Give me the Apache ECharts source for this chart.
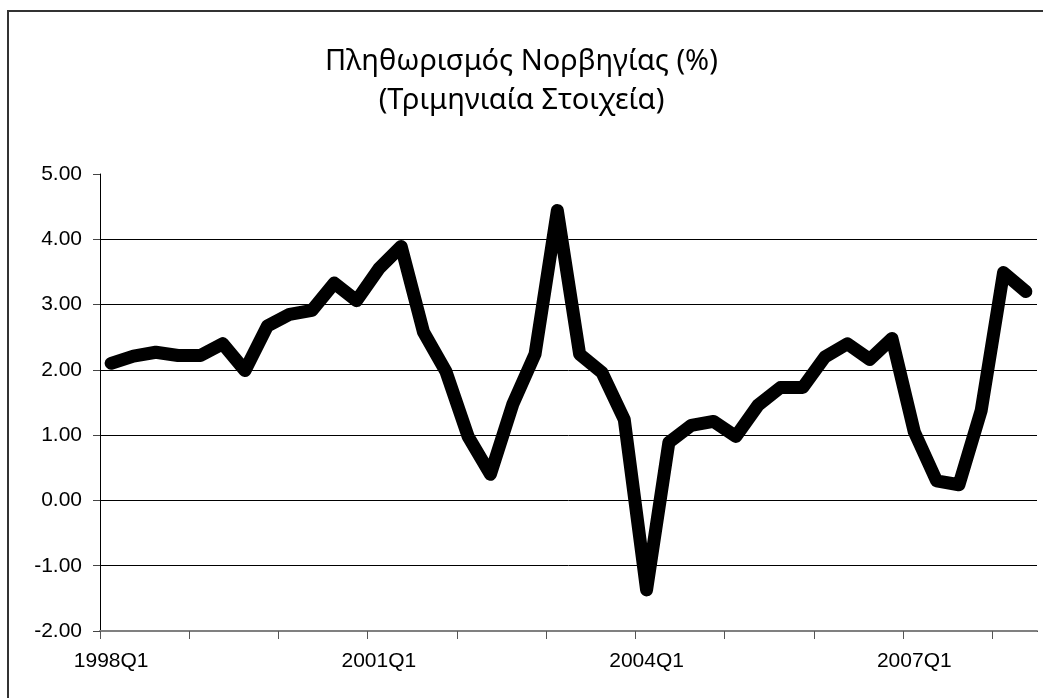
<!DOCTYPE html>
<html>
<head>
<meta charset="utf-8">
<script src="https://cdn.jsdelivr.net/npm/echarts@6/dist/echarts.min.js"></script>
<style>html,body{margin:0;padding:0;background:#fff}#c{width:1043px;height:698px}</style>
</head>
<body>
<div id="c"></div>
<script>
const titleText = 'Πληθωρισμός Νορβηγίας (%)\n(Τριμηνιαία Στοιχεία)';
const categories = [
  '1998Q1','1998Q2','1998Q3','1998Q4',
  '1999Q1','1999Q2','1999Q3','1999Q4',
  '2000Q1','2000Q2','2000Q3','2000Q4',
  '2001Q1','2001Q2','2001Q3','2001Q4',
  '2002Q1','2002Q2','2002Q3','2002Q4',
  '2003Q1','2003Q2','2003Q3','2003Q4',
  '2004Q1','2004Q2','2004Q3','2004Q4',
  '2005Q1','2005Q2','2005Q3','2005Q4',
  '2006Q1','2006Q2','2006Q3','2006Q4',
  '2007Q1','2007Q2','2007Q3','2007Q4',
  '2008Q1','2008Q2'
];
const inflation = [
  2.10, 2.21, 2.27, 2.22,
  2.22, 2.40, 1.99, 2.67,
  2.85, 2.91, 3.33, 3.06,
  3.55, 3.89, 2.58, 1.98,
  0.98, 0.40, 1.47, 2.24,
  4.44, 2.24, 1.96, 1.24,
  -1.37, 0.89, 1.15, 1.21,
  0.98, 1.46, 1.73, 1.73,
  2.20, 2.40, 2.16, 2.48,
  1.05, 0.30, 0.24, 1.38,
  3.49, 3.20
];
const yMin = -2, yMax = 5, yStep = 1;

const chart = echarts.init(document.getElementById('c'));
chart.setOption({
  animation: false,
  backgroundColor: '#ffffff',
  title: {
    text: titleText,
    left: 'center',
    top: 37,
    textStyle: { fontFamily: 'Noto Sans, sans-serif', fontSize: 29, fontWeight: 'normal', color: '#000', lineHeight: 39 }
  },
  graphic: [{
    type: 'rect',
    shape: { x: 8, y: 11, width: 1200, height: 900 },
    style: { fill: 'none', stroke: '#333', lineWidth: 2 },
    silent: true
  }, {
    type: 'rect',
    shape: { x: 1032, y: 632, width: 11, height: 12 },
    style: { fill: '#ffffff' },
    z: 100,
    silent: true
  }],
  grid: { left: 100, right: 6, top: 174, bottom: 67 },
  xAxis: {
    type: 'category',
    data: categories,
    boundaryGap: true,
    axisLine: { onZero: false, lineStyle: { color: '#808080', width: 2 } },
    axisTick: { show: true, interval: 3, length: 8, lineStyle: { color: '#555', width: 1 } },
    axisLabel: { interval: 11, margin: 20, fontFamily: 'Liberation Sans, Arial, sans-serif', fontSize: 21, color: '#000' },
    splitLine: { show: false }
  },
  yAxis: {
    type: 'value',
    min: yMin, max: yMax, interval: yStep,
    axisLine: { show: true, lineStyle: { color: '#000', width: 1 } },
    axisTick: { show: true, length: 7, lineStyle: { color: '#444', width: 1 } },
    axisLabel: { margin: 18, fontFamily: 'Liberation Sans, Arial, sans-serif', fontSize: 21, color: '#000', formatter: v => v.toFixed(2) },
    splitLine: { show: true, showMinLine: false, showMaxLine: false, lineStyle: { color: '#000', width: 1 } }
  },
  series: [{
    type: 'line',
    data: inflation,
    symbol: 'none',
    lineStyle: { color: '#000', width: 13, cap: 'round', join: 'round' },
    z: 3
  }]
});
</script>
</body>
</html>
